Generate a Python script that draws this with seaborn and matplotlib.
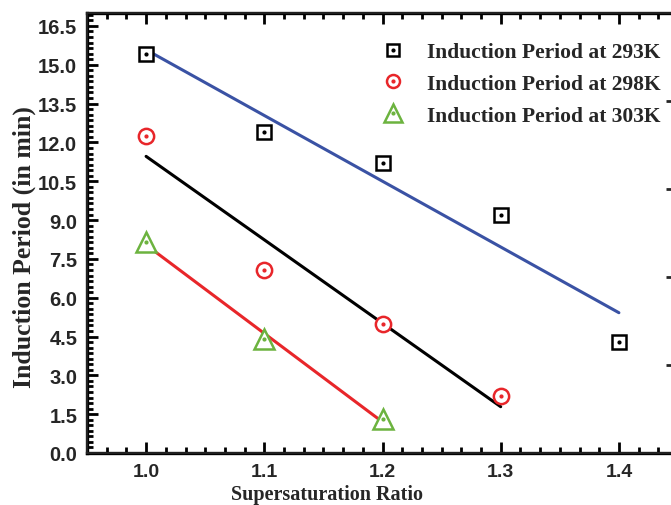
import matplotlib
matplotlib.use("Agg")
import matplotlib.pyplot as plt
from matplotlib.lines import Line2D
from matplotlib.legend_handler import HandlerTuple
from matplotlib.ticker import MultipleLocator, AutoMinorLocator
import numpy as np
import pandas as pd
import seaborn as sns

# supersaturation ratio and induction period (min) per temperature
ratio_293 = [1.0, 1.1, 1.2, 1.3, 1.4]
period_293 = [15.4, 12.4, 11.2, 9.2, 4.3]
ratio_298 = [1.0, 1.1, 1.2, 1.3]
period_298 = [12.25, 7.07, 4.98, 2.2]
ratio_303 = [1.0, 1.1, 1.2]
period_303 = [8.15, 4.4, 1.31]

labels = ["Induction Period at 293K", "Induction Period at 298K", "Induction Period at 303K"]
marker_colors = ["black", "#e8262a", "#6cb33f"]
fit_colors = ["#3a52a4", "black", "#e8262a"]
markers = ["s", "o", "^"]
msizes = [10.5, 11, 14.5]

sns.set_theme(style="ticks")
plt.rcParams["font.family"] = ["Liberation Sans", "DejaVu Sans"]

fig = plt.figure(figsize=(6.71, 5.06), dpi=100)
ax = fig.add_axes([87 / 671, 52 / 506, 591 / 671, 440 / 506])

series = [(ratio_293, period_293), (ratio_298, period_298), (ratio_303, period_303)]
for (xs, ys), mc, fc, m, ms in zip(series, marker_colors, fit_colors, markers, msizes):
    df = pd.DataFrame({"ratio": xs, "period": ys})
    sns.regplot(data=df, x="ratio", y="period", ax=ax, ci=None, scatter=False,
                line_kws=dict(color=fc, lw=2.2, zorder=2))
    ax.plot(df["ratio"], df["period"], ls="none", marker=m, ms=ms, mfc="white",
            mec=mc, mew=1.8, zorder=3)
    ax.plot(df["ratio"], df["period"], ls="none", marker="o", ms=2, color=mc,
            mec=mc, zorder=4)

ax.set_xlim(0.95, 1.45)
ax.set_ylim(0, 17)
ax.xaxis.set_major_locator(MultipleLocator(0.1))
ax.xaxis.set_minor_locator(AutoMinorLocator(6))
ax.yaxis.set_major_locator(MultipleLocator(1.5))
ax.yaxis.set_minor_locator(AutoMinorLocator(7))
ax.set_yticks(np.arange(0, 16.6, 1.5))
ax.set_yticklabels([f"{v:.1f}" for v in np.arange(0, 16.6, 1.5)])
ax.set_xticks(ratio_293)
ax.set_xticklabels([f"{v:.1f}" for v in ratio_293])

ax.tick_params(which="both", direction="in", top=True, right=False, width=2, color="black")
ax.tick_params(which="major", length=8, labelsize=14.5)
ax.tick_params(axis="x", labelsize=14)
ax.tick_params(axis="y", which="major", pad=7)
ax.tick_params(axis="x", which="major", pad=7)
ax.tick_params(which="minor", length=4)
for lab in ax.get_xticklabels() + ax.get_yticklabels():
    lab.set_fontweight("bold")
for sp in ax.spines.values():
    sp.set_linewidth(2.4)
    sp.set_color("black")

# right-hand axis is cropped off; only its tick tips show
ax2 = ax.twinx()
ax2.set_ylim(0, 17)
ax2.set_yticks(np.linspace(0, 17, 6)[1:-1])
ax2.tick_params(axis="y", direction="in", length=9, width=2, labelright=False)
ax2.spines["right"].set_linewidth(2.4)

serif = ["Liberation Serif", "DejaVu Serif"]
ax.set_xlabel("Supersaturation Ratio", family=serif, fontweight="bold", fontsize=14.5, va="bottom")
ax.xaxis.set_label_coords(0.406, -0.116)
ax.set_ylabel("Induction Period (in min)", family=serif, fontweight="bold", fontsize=18.5)
ax.yaxis.set_label_coords(-0.087, 0.47)

handles = []
for mc, m, ms in zip(marker_colors, markers, msizes):
    h1 = Line2D([], [], ls="none", marker=m, ms=ms * 0.85, mfc="white", mec=mc, mew=1.8)
    h2 = Line2D([], [], ls="none", marker="o", ms=2, color=mc)
    handles.append((h1, h2))
fig.legend(handles, labels, handler_map={tuple: HandlerTuple(ndivide=1, pad=0)},
           loc="upper left", bbox_to_anchor=(380 / 671, 1 - 43 / 506), frameon=False,
           prop=dict(family=serif, weight="bold", size=15.5), handlelength=1.2,
           handletextpad=1.0, labelspacing=0.55, borderaxespad=0, borderpad=0)

fig.savefig("out.png", dpi=100)
